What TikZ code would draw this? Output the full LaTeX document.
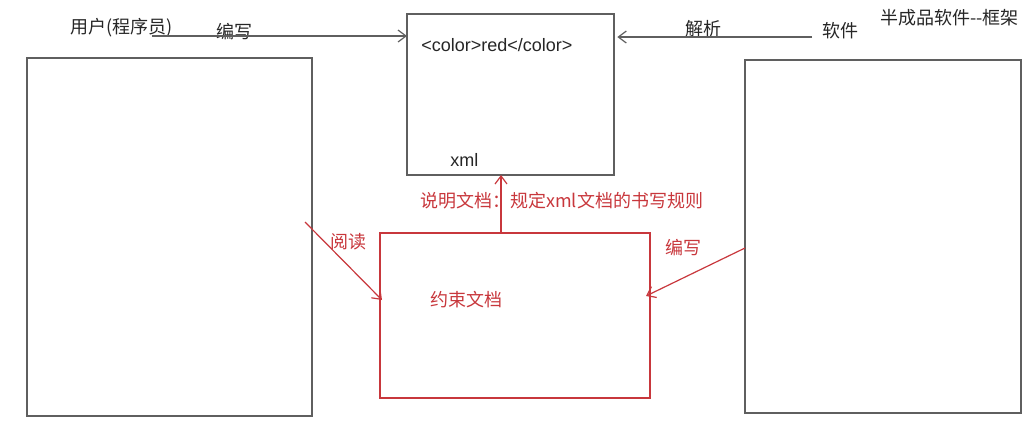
\documentclass[tikz,border=0pt]{standalone}
\usepackage{fontspec}
\setmainfont{Liberation Sans}
\newfontfamily\cjk{Noto Sans CJK SC}
\usetikzlibrary{arrows.meta}
\definecolor{redc}{RGB}{200,55,60}
\definecolor{linec}{RGB}{95,95,95}
\tikzset{
  box/.style={draw=linec, line width=1.1pt, inner sep=0pt, outer sep=0pt},
  rbox/.style={draw=redc, line width=1.1pt, inner sep=0pt, outer sep=0pt},
  arr/.style={draw=linec, line width=0.9pt, -{Straight Barb[length=6pt,width=9pt]}},
  rarr/.style={draw=redc, line width=0.9pt, -{Straight Barb[length=6pt,width=9pt]}},
  lbl/.style={font=\cjk\fontsize{13.5}{15}\selectfont, text=black!85, inner sep=0pt},
  rlbl/.style={font=\cjk\fontsize{13.5}{15}\selectfont, text=redc, inner sep=0pt},
  eng/.style={font=\fontsize{13.5}{15}\selectfont, text=black!85, inner sep=0pt},
}
\begin{document}
\begin{tikzpicture}[x=0.75pt,y=-0.75pt]
\useasboundingbox (0,0) rectangle (1036,433);
% boxes
\node[box, minimum width=285*0.75pt, minimum height=358*0.75pt] (left) at (169.5,237) {};
\node[box, minimum width=207*0.75pt, minimum height=161*0.75pt] (xmlbox) at (510.5,94.5) {};
\node[box, minimum width=276*0.75pt, minimum height=353*0.75pt] (right) at (883,236.5) {};
\node[rbox, minimum width=270*0.75pt, minimum height=165*0.75pt] (cbox) at (515,315.5) {};
% texts
\node[lbl, anchor=west] (user) at (70,28) {用户(程序员)};
\node[lbl, anchor=west] (write1) at (216,32) {编写};
\node[lbl, anchor=west] (parse) at (685,29) {解析};
\node[lbl, anchor=west] (soft) at (822,31) {软件};
\node[lbl, anchor=west] (frame) at (880,18) {半成品软件--框架};
\node[eng, anchor=west] (colortxt) at (421,45) {<color>red</color>};
\node[eng, anchor=west] (xmltxt) at (450,160) {xml};
\node[rlbl, anchor=west] (desc) at (420,201) {说明文档：规定xml文档的书写规则};
\node[rlbl, anchor=west] (read) at (330,242) {阅读};
\node[rlbl, anchor=west] (write2) at (665,248) {编写};
\node[rlbl, anchor=west] (cons) at (430,300) {约束文档};
% connectors
\coordinate (a1s) at (152,36);
\draw[arr] (a1s) -- (xmlbox.west |- a1s);
\coordinate (a2s) at (812,37);
\draw[arr] (a2s) -- ([xshift=2.5pt]xmlbox.east |- a2s);
\coordinate (cx) at (501,0);
\draw[rarr] (cbox.north -| cx) -- (xmlbox.south -| cx);
\coordinate (r1s) at (305,222);
\coordinate (r1e) at (382,300);
\draw[rarr] (r1s) -- (r1e);
\coordinate (r2s) at (745,248);
\coordinate (r2e) at (646,296);
\draw[rarr] (r2s) -- (r2e);
\end{tikzpicture}
\end{document}
